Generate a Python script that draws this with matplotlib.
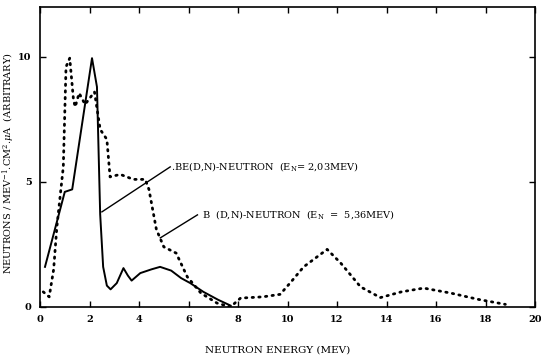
import numpy as np
import matplotlib.pyplot as plt

plt.rcParams['font.family'] = 'DejaVu Serif'
plt.rcParams['mathtext.fontset'] = 'dejavuserif'

# Be(d,n) neutron spectrum (solid)
be_e = [0.2, 1.0, 1.3, 2.1, 2.3, 2.43, 2.55, 2.7, 2.85, 3.1, 3.37, 3.55, 3.7, 4.05, 4.5, 4.85,
        5.3, 5.7, 6.07, 6.6, 7.2, 7.7]
be_n = [1.6, 4.6, 4.7, 9.95, 8.8, 3.7, 1.6, 0.85, 0.7, 0.95, 1.55, 1.25, 1.05, 1.35, 1.5, 1.6,
        1.45, 1.15, 0.95, 0.6, 0.28, 0.05]

# B(d,n) neutron spectrum (dotted)
b_e = [0.13, 0.37, 0.55, 0.68, 0.94, 1.05, 1.2, 1.35, 1.42, 1.58, 1.82, 2.2, 2.43, 2.7, 2.83,
       3.24, 3.77, 4.25, 4.4, 4.7, 5.0, 5.5, 5.95, 6.5, 7.15, 7.7, 8.1, 9.0, 9.7, 10.1,
       10.65, 11.6, 12.15, 12.95, 13.75, 14.6, 15.5, 16.6, 17.7, 18.8]
b_n = [0.6, 0.4, 1.5, 3.2, 5.6, 9.6, 9.95, 8.3, 8.0, 8.55, 8.1, 8.6, 7.1, 6.7, 5.2,
       5.3, 5.1, 5.1, 4.7, 3.1, 2.4, 2.15, 1.2, 0.55, 0.15, 0.0, 0.35, 0.4, 0.5, 0.95,
       1.6, 2.3, 1.75, 0.8, 0.37, 0.6, 0.75, 0.55, 0.3, 0.1]

x_ticks = [0, 2, 4, 6, 8, 10, 12, 14, 16, 18, 20]
y_ticks = [0, 5, 10]

fig = plt.figure(figsize=(5.41, 3.64), dpi=100)
ax = fig.add_axes([0.074, 0.157, 0.915, 0.824])

ax.plot(be_e, be_n, color='black', lw=1.4, solid_joinstyle='round')
ax.plot(b_e, b_n, color='black', lw=2.0, linestyle=(0, (0.5, 1.9)),
        dash_capstyle='round')

ax.set_xlim(0, 20)
ax.set_ylim(0, 12)
ax.set_xticks(x_ticks)
ax.set_yticks(y_ticks)
ax.tick_params(direction='in', top=True, right=True, length=4, width=1,
               labelsize=7, pad=6)
for lab in ax.get_xticklabels() + ax.get_yticklabels():
    lab.set_fontweight('bold')
for s in ax.spines.values():
    s.set_linewidth(1.2)

ax.set_xlabel('NEUTRON ENERGY (MEV)', fontsize=7.5)
ax.xaxis.set_label_coords(0.48, -0.13)
ax.set_ylabel(r'NEUTRONS / MEV$^{-1}$.CM$^{2}$.$\mu$A  (ARBITRARY)', fontsize=7)
ax.yaxis.set_label_coords(-0.046, 0.48)

# leader lines and labels
ax.plot([2.5, 5.26], [3.8, 5.6], color='black', lw=1)
ax.text(5.3, 5.6, r'.BE(D,N)-NEUTRON  (E$_{\mathregular{N}}$= 2,03MEV)', fontsize=7,
        va='center', ha='left')
ax.plot([4.86, 6.36], [2.76, 3.68], color='black', lw=1)
ax.text(6.56, 3.7, r'B  (D,N)-NEUTRON  (E$_{\mathregular{N}}$  =  5,36MEV)', fontsize=7,
        va='center', ha='left')

fig.savefig('out.png', dpi=100)
